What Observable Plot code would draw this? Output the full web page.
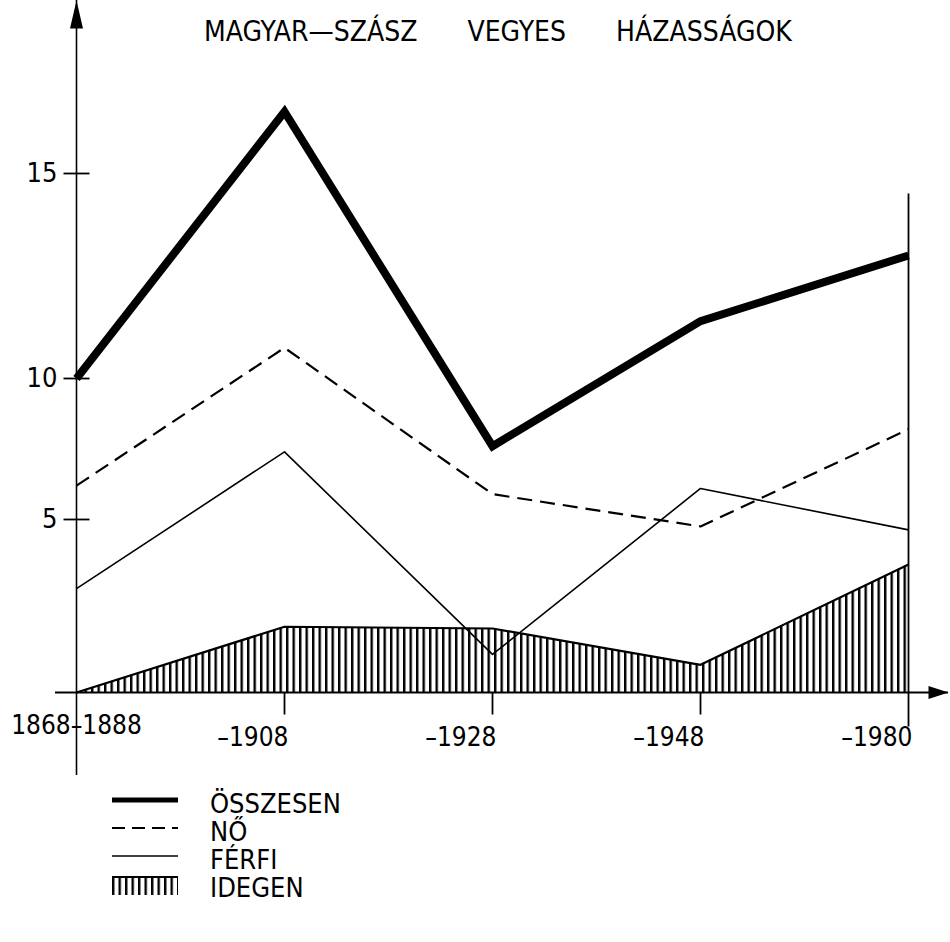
<!DOCTYPE html>
<html><head><meta charset="utf-8">
<script src="https://cdn.jsdelivr.net/npm/d3@7"></script>
<script src="https://cdn.jsdelivr.net/npm/@observablehq/plot@0.6"></script>
<style>
body{margin:0;background:#fff;font-family:"DejaVu Sans Condensed","DejaVu Sans",sans-serif;color:#000;}
#wrap{position:relative;width:950px;height:942px;overflow:hidden;}
#chart{position:absolute;left:0;top:0;}
#title{position:absolute;left:204px;top:15px;font-size:28px;white-space:pre;}
#title span{margin-right:50px;}
#legend{position:absolute;left:0;top:0;width:950px;}
.row{position:absolute;left:112px;height:24px;display:flex;align-items:center;}
.row svg{display:block;}
.row .lab{margin-left:32px;font-size:27px;line-height:24px;position:relative;top:4px;}
</style></head><body>
<div id="wrap">
  <div id="chart"></div>
  <div id="title"><span>MAGYAR—SZÁSZ</span><span>VEGYES</span><span>HÁZASSÁGOK</span></div>
  <div id="legend"></div>
</div>
<script>
// ---- data ----
const periods = ["1868–1888", "–1908", "–1928", "–1948", "–1980"];
const osszesen = [10, 16.5, 7.6, 11.4, 13.0];   // ÖSSZESEN (thick)
const no       = [6.2, 10.75, 5.9, 4.8, 8.2];   // NŐ (dashed)
const ferfi    = [3.0, 7.4, 1.1, 6.1, 4.7];     // FÉRFI (thin)
const idegen   = [0, 1.9, 1.85, 0.8, 3.7];      // IDEGEN (hatched)
const yTicks   = [5, 10, 15];
const legendLabels = ["ÖSSZESEN", "NŐ", "FÉRFI", "IDEGEN"];

const rows = (vals) => periods.map((p, i) => ({period: p, value: vals[i]}));

// custom symbols
const arrowUp = {draw(c) { c.moveTo(0, 0); c.lineTo(-6.5, 28); c.lineTo(6.5, 28); c.closePath(); }};
const arrowRight = {draw(c) { c.moveTo(0, 0); c.lineTo(-20, -6.5); c.lineTo(-20, 6.5); c.closePath(); }};
const hTick = {draw(c) { c.moveTo(-13, 0); c.lineTo(13, 0); }};
const vTick = {draw(c) { c.moveTo(0, 0); c.lineTo(0, 22); }};

const font = '"DejaVu Sans Condensed","DejaVu Sans",sans-serif';

const svg = Plot.plot({
  width: 950,
  height: 780,
  marginLeft: 55,
  marginRight: 2,
  marginTop: 0,
  marginBottom: 5,
  style: {fontFamily: font, background: "white", overflow: "visible"},
  x: {type: "point", domain: periods, range: [75, 908], padding: 0, axis: null},
  y: {type: "linear", domain: [-2.4, 0, 5, 10, 15, 19.2], range: [775, 692, 519, 378, 173, 0], axis: null},
  marks: [
    // hatched IDEGEN area
    Plot.areaY(rows(idegen), {x: "period", y: "value", fill: "url(#hatch)"}),
    Plot.line(rows(idegen), {x: "period", y: "value", stroke: "black", strokeWidth: 2.2, strokeLinecap: "butt"}),
    // axes
    Plot.ruleX([periods[0]], {stroke: "black", strokeWidth: 1.6}),
    Plot.ruleY([0], {stroke: "black", strokeWidth: 1.8}),
    Plot.ruleX([periods[4]], {y1: -1.0, y2: 14.5, stroke: "black", strokeWidth: 1.8}),
    Plot.dot(periods.slice(1, 4), {x: d => d, y: () => 0, symbol: vTick, stroke: "black", strokeWidth: 1.8, fill: "none"}),
    Plot.dot(yTicks, {x: () => periods[0], y: d => d, symbol: hTick, stroke: "black", strokeWidth: 1.8, fill: "none"}),
    Plot.dot([0], {x: () => periods[0], frameAnchor: "top", symbol: arrowUp, fill: "black", stroke: "none"}),
    Plot.dot([0], {y: d => d, frameAnchor: "right", symbol: arrowRight, fill: "black", stroke: "none"}),
    // series lines
    Plot.line(rows(ferfi), {x: "period", y: "value", stroke: "black", strokeWidth: 1.6, strokeLinecap: "butt"}),
    Plot.line(rows(no), {x: "period", y: "value", stroke: "black", strokeWidth: 2.2, strokeDasharray: "15,8", strokeLinecap: "butt"}),
    Plot.line(rows(osszesen), {x: "period", y: "value", stroke: "black", strokeWidth: 8, strokeLinejoin: "miter", strokeMiterlimit: 10, strokeLinecap: "butt"}),
    // tick labels
    Plot.text(yTicks, {x: () => periods[0], y: d => d, text: d => String(d), textAnchor: "end", dx: -19, fontSize: 27, fill: "black"}),
    Plot.text([periods[0]], {x: d => d, y: () => 0, text: d => d, textAnchor: "middle", dy: 33, fontSize: 26, fill: "black"}),
    Plot.text(periods.slice(1), {x: d => d, y: () => 0, text: d => d, textAnchor: "end", dx: 4, dy: 45, fontSize: 26, fill: "black"})
  ]
});

// hatch pattern definition
const ns = "http://www.w3.org/2000/svg";
const defs = document.createElementNS(ns, "defs");
defs.innerHTML = '<pattern id="hatch" patternUnits="userSpaceOnUse" width="6.5" height="10"><rect x="0" y="0" width="2.4" height="10" fill="black"/></pattern>';
svg.insertBefore(defs, svg.firstChild);
document.getElementById("chart").appendChild(svg);

// legend
const legendTop = [788, 816, 844, 872];
const swatch = [
  '<line x1="0" y1="12" x2="66" y2="12" stroke="black" stroke-width="5"/>',
  '<line x1="0" y1="12" x2="66" y2="12" stroke="black" stroke-width="2" stroke-dasharray="13,7"/>',
  '<line x1="0" y1="12" x2="66" y2="12" stroke="black" stroke-width="1.6"/>',
  '<defs><pattern id="hatch2" patternUnits="userSpaceOnUse" width="6.5" height="24"><rect x="0" y="0" width="2.4" height="24" fill="black"/></pattern></defs><rect x="0" y="4" width="66" height="19" fill="url(#hatch2)"/><line x1="0" y1="5" x2="66" y2="5" stroke="black" stroke-width="2"/>'
];
const leg = document.getElementById("legend");
legendLabels.forEach((lab, i) => {
  const r = document.createElement("div");
  r.className = "row";
  r.style.top = legendTop[i] + "px";
  r.innerHTML = `<svg width="66" height="24">${swatch[i]}</svg><span class="lab">${lab}</span>`;
  leg.appendChild(r);
});
</script>
</body></html>
